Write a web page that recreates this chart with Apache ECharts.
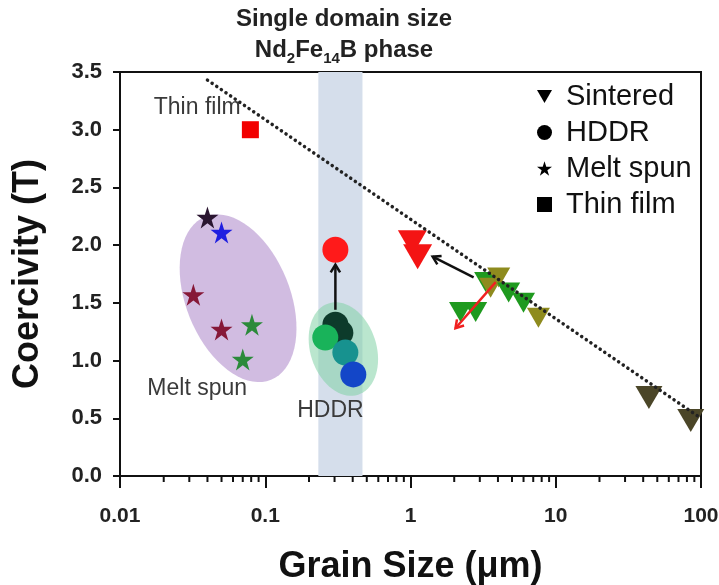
<!DOCTYPE html>
<html>
<head>
<meta charset="utf-8">
<script src="https://cdn.jsdelivr.net/npm/echarts@6/dist/echarts.min.js"></script>
<style>
  html, body { margin: 0; padding: 0; background: #fff; }
  #main { width: 719px; height: 585px; }
</style>
</head>
<body>
<div id="main"></div>
<script>
// data
const xTickLabels = ['0.01', '0.1', '1', '10', '100'];
const minorTickValues = [];
for (let d = 0.01; d < 100; d *= 10) {
  for (let k = 2; k <= 9; k++) minorTickValues.push(+(k * d).toPrecision(2));
}

const sinteredX = [1.03, 1.12, 3.29, 4.05, 3.56, 4.74, 6.0, 7.6, 2.21, 2.81, 43.8, 85];
const sinteredY = [2.02, 1.90, 1.68, 1.72, 1.63, 1.59, 1.50, 1.37, 1.42, 1.42, 0.68, 0.48];

const hddrX = [0.304, 0.304, 0.329, 0.259, 0.356, 0.404];
const hddrY = [1.96, 1.31, 1.24, 1.20, 1.07, 0.88];

const meltX = [0.040, 0.050, 0.032, 0.050, 0.081, 0.070];
const meltY = [2.24, 2.11, 1.57, 1.27, 1.31, 1.01];

const thinX = [0.079];
const thinY = [3.0];

const trendX = [0.04, 100];
const trendY = [3.43, 0.5];

const bandRange = [0.232, 0.467]; // single domain size band

// arrows: [x1, y1, x2, y2]
const arrows = [
  [0.304, 1.44, 0.304, 1.83],
  [2.72, 1.72, 1.42, 1.90],
  [3.86, 1.68, 2.04, 1.28]
];

// shaded groups: centre [x, y]
const groupCentres = [[0.065, 1.54], [0.345, 1.10]];

const notes = ['Thin film', 'Melt spun', 'HDDR'];
const noteX = [0.034, 0.034, 0.281];
const noteY = [3.19, 0.76, 0.57];

// styles
const RED = '#f41414', GREEN = '#1f9a1f', OLIVE = '#8e8b1e', DARK = '#4b4628';
const sinteredColors = [RED, RED, GREEN, OLIVE, OLIVE, GREEN, GREEN, OLIVE, GREEN, GREEN, DARK, DARK];
const sinteredSizes = [[29, 25], [29, 25], [23, 20], [23, 20], [23, 20], [23, 20], [23, 20], [23, 20], [23, 20], [23, 20], [27, 23], [27, 23]];
const hddrColors = ['#ff1a1a', '#0d3b2b', '#0d3b2b', '#19b35a', '#17928f', '#1346c8'];
const meltColors = ['#2a1530', '#1f1fe0', '#861838', '#861838', '#2b8a3a', '#2b8a3a'];
const arrowColors = ['#111', '#111', '#f02020'];
const groupStyle = [
  { a: 52, b: 88, rot: -22, fill: 'rgba(190,160,212,0.7)' },
  { a: 33, b: 48, rot: -18, fill: 'rgba(130,210,165,0.55)' }
];

const FONT = '"Liberation Sans", Arial, sans-serif';
const triPath = 'path://M0,0L100,0L50,86Z';
const starPath = 'path://M50,0L61.2,34.5L97.6,34.5L68.2,55.9L79.4,90.5L50,69.1L20.6,90.5L31.8,55.9L2.4,34.5L38.8,34.5Z';

const zip = (xs, ys) => xs.map((x, i) => [x, ys[i]]);

var myChart = echarts.init(document.getElementById('main'));

myChart.setOption({
  animation: false,
  graphic: [{
    type: 'text',
    x: 344,
    y: 4,
    style: {
      text: '{a|Single domain size}\n{a|Nd}{s|2}{a|Fe}{s|14}{a|B phase}',
      align: 'center',
      fill: '#222',
      rich: {
        a: { fontSize: 24, fontWeight: 'bold', fontFamily: FONT, lineHeight: 31, fill: '#222' },
        s: { fontSize: 15, fontWeight: 'bold', fontFamily: FONT, lineHeight: 15, verticalAlign: 'bottom', fill: '#222' }
      }
    }
  }],
  grid: {
    left: 120, right: 18, top: 72, bottom: 109,
    outerBoundsMode: 'none',
    show: true, borderColor: '#111', borderWidth: 2
  },
  legend: {
    orient: 'vertical',
    left: 532,
    top: 77,
    itemWidth: 15,
    itemHeight: 15,
    itemGap: 7,
    textStyle: { fontSize: 29, color: '#111', fontFamily: FONT, padding: [0, 0, 0, 9] },
    data: [
      { name: 'Sintered', icon: triPath, itemStyle: { color: '#000' } },
      { name: 'HDDR', icon: 'circle', itemStyle: { color: '#000' } },
      { name: 'Melt spun', icon: starPath, itemStyle: { color: '#000' } },
      { name: 'Thin film', icon: 'rect', itemStyle: { color: '#000' } }
    ]
  },
  xAxis: {
    type: 'log',
    logBase: 10,
    min: 0.01,
    max: 100,
    splitNumber: 4,
    name: 'Grain Size (μm)',
    nameLocation: 'middle',
    nameGap: 73,
    nameTextStyle: { fontSize: 36, fontWeight: 'bold', color: '#111', fontFamily: FONT },
    axisLine: { lineStyle: { color: '#111', width: 2 } },
    axisTick: { length: 12, lineStyle: { color: '#111', width: 2 } },
    splitLine: { show: false },
    axisLabel: {
      margin: 30,
      fontSize: 21,
      fontWeight: 'bold',
      color: '#222',
      fontFamily: FONT,
      formatter: (v) => xTickLabels[Math.round(Math.log10(v)) + 2]
    }
  },
  yAxis: {
    type: 'value',
    min: 0,
    max: 3.5,
    interval: 0.5,
    name: 'Coercivity (T)',
    nameLocation: 'middle',
    nameGap: 74,
    nameTextStyle: { fontSize: 36, fontWeight: 'bold', color: '#111', fontFamily: FONT },
    axisLine: { show: true, lineStyle: { color: '#111', width: 2 } },
    axisTick: { show: true, length: 7, lineStyle: { color: '#111', width: 2 } },
    splitLine: { show: false },
    axisLabel: {
      margin: 18,
      fontSize: 22,
      fontWeight: 'bold',
      color: '#222',
      fontFamily: FONT,
      formatter: (v) => v.toFixed(1)
    }
  },
  series: [
    {
      // single domain band
      type: 'custom',
      z: 1,
      silent: true,
      data: [bandRange],
      encode: { x: [0, 1] },
      renderItem: (params, api) => {
        const p1 = api.coord([api.value(0), 3.5]);
        const p2 = api.coord([api.value(1), 0]);
        return {
          type: 'rect',
          shape: { x: p1[0], y: p1[1], width: p2[0] - p1[0], height: p2[1] - p1[1] },
          style: { fill: '#d5deeb' }
        };
      }
    },
    {
      // minor ticks on the log axis
      type: 'custom',
      z: 2,
      silent: true,
      clip: false,
      data: minorTickValues.map((v) => [v, 0]),
      renderItem: (params, api) => {
        const p = api.coord([api.value(0), 0]);
        return {
          type: 'line',
          shape: { x1: p[0], y1: p[1], x2: p[0], y2: p[1] + 6 },
          style: { stroke: '#111', lineWidth: 2 }
        };
      }
    },
    {
      // shaded groups
      type: 'custom',
      z: 2,
      silent: true,
      data: groupCentres,
      renderItem: (params, api) => {
        const c = api.coord([api.value(0), api.value(1)]);
        const s = groupStyle[params.dataIndex];
        const th = s.rot * Math.PI / 180;
        const pts = [];
        for (let i = 0; i < 72; i++) {
          const t = i / 72 * Math.PI * 2;
          const dx = s.a * Math.cos(t), dy = s.b * Math.sin(t);
          pts.push([c[0] + dx * Math.cos(th) - dy * Math.sin(th), c[1] + dx * Math.sin(th) + dy * Math.cos(th)]);
        }
        return { type: 'polygon', shape: { points: pts }, style: { fill: s.fill } };
      }
    },
    {
      // labels on the plot
      type: 'custom',
      z: 3,
      silent: true,
      data: zip(noteX, noteY),
      renderItem: (params, api) => {
        const p = api.coord([api.value(0), api.value(1)]);
        return {
          type: 'text',
          style: {
            text: notes[params.dataIndex], x: p[0], y: p[1],
            align: 'center', verticalAlign: 'middle',
            fontSize: 23, fontFamily: FONT, fill: '#3a3a3a'
          }
        };
      }
    },
    {
      name: 'Sintered',
      type: 'scatter',
      z: 5,
      symbol: triPath,
      symbolSize: (v, p) => sinteredSizes[p.dataIndex],
      itemStyle: { color: (p) => sinteredColors[p.dataIndex], opacity: 1 },
      data: zip(sinteredX, sinteredY)
    },
    {
      name: 'HDDR',
      type: 'scatter',
      z: 5,
      symbol: 'circle',
      symbolSize: 26,
      itemStyle: { color: (p) => hddrColors[p.dataIndex], opacity: 1 },
      data: zip(hddrX, hddrY)
    },
    {
      name: 'Melt spun',
      type: 'scatter',
      z: 5,
      symbol: starPath,
      symbolSize: 22,
      itemStyle: { color: (p) => meltColors[p.dataIndex], opacity: 1 },
      data: zip(meltX, meltY)
    },
    {
      name: 'Thin film',
      type: 'scatter',
      z: 5,
      symbol: 'rect',
      symbolSize: 17,
      itemStyle: { color: '#f20000', opacity: 1 },
      data: zip(thinX, thinY)
    },
    {
      // dotted trend line
      type: 'line',
      z: 6,
      silent: true,
      symbol: 'none',
      lineStyle: { color: '#222', width: 3.5, type: [0.1, 5.5], cap: 'round' },
      data: zip(trendX, trendY)
    },
    {
      // arrows
      type: 'custom',
      z: 7,
      silent: true,
      data: arrows,
      encode: { x: [0, 2], y: [1, 3] },
      renderItem: (params, api) => {
        const a = api.coord([api.value(0), api.value(1)]);
        const b = api.coord([api.value(2), api.value(3)]);
        const ang = Math.atan2(b[1] - a[1], b[0] - a[0]);
        const h = 9, spread = 0.55;
        const col = arrowColors[params.dataIndex];
        return {
          type: 'group',
          children: [
            { type: 'line', shape: { x1: a[0], y1: a[1], x2: b[0], y2: b[1] }, style: { stroke: col, lineWidth: 2.5 } },
            {
              type: 'polyline',
              shape: {
                points: [
                  [b[0] - h * Math.cos(ang - spread), b[1] - h * Math.sin(ang - spread)],
                  [b[0], b[1]],
                  [b[0] - h * Math.cos(ang + spread), b[1] - h * Math.sin(ang + spread)]
                ]
              },
              style: { stroke: col, lineWidth: 2.5, fill: null }
            }
          ]
        };
      }
    }
  ]
});
</script>
</body>
</html>
